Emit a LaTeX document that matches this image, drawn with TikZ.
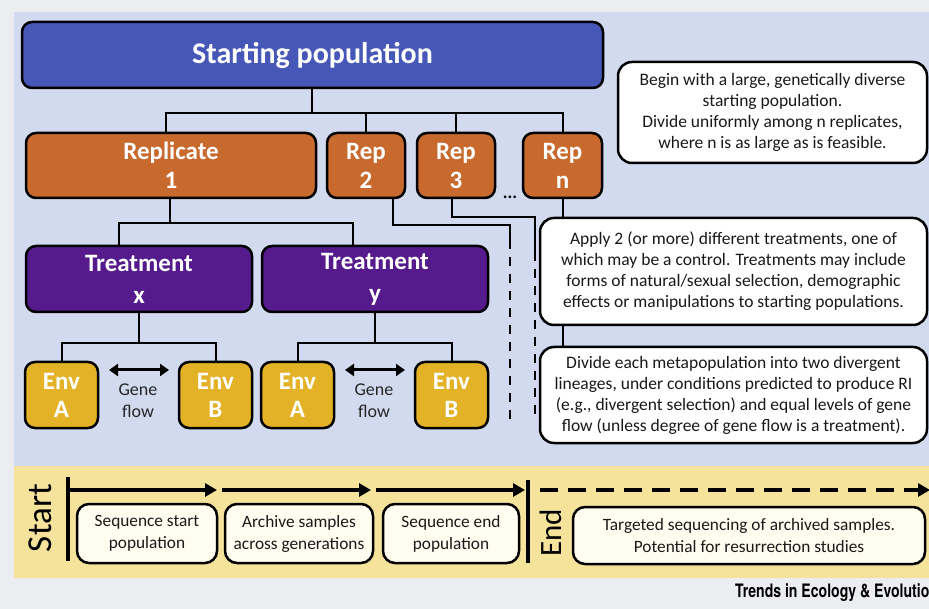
\documentclass[tikz,border=0pt]{standalone}
\usepackage{fontspec}
\setmainfont{Carlito}
\newfontfamily\heros{TeX Gyre Heros}
\usepackage{graphicx}
\usepackage{tikz}
\usetikzlibrary{arrows.meta}

\definecolor{pagegray}{RGB}{235,237,240}
\definecolor{panelblue}{RGB}{210,218,240}
\definecolor{panelyellow}{RGB}{245,227,155}
\definecolor{popblue}{RGB}{70,87,184}
\definecolor{repbrown}{RGB}{200,106,46}
\definecolor{treatpurple}{RGB}{85,27,140}
\definecolor{envgold}{RGB}{227,178,38}
\definecolor{cream}{RGB}{255,252,240}

\tikzset{
  box/.style={draw=black, line width=2.5pt, rounded corners=10pt, align=center, inner sep=0pt},
  popbox/.style={box, fill=popblue, text=white, font=\bfseries\fontsize{30}{34}\selectfont},
  repbox/.style={box, fill=repbrown, text=white, font=\bfseries\fontsize{25}{29}\selectfont, minimum height=65},
  treatbox/.style={box, fill=treatpurple, text=white, font=\bfseries\fontsize{25}{32}\selectfont, minimum width=226, minimum height=66},
  envbox/.style={box, fill=envgold, text=white, font=\bfseries\fontsize{25}{28}\selectfont, minimum width=73, minimum height=66},
  notebox/.style={box, fill=white, rounded corners=14pt, text=black!90, font=\fontsize{17.5}{21}\selectfont},
  stagebox/.style={box, fill=cream, rounded corners=12pt, text=black!90, font=\fontsize{17.3}{22}\selectfont, minimum height=59},
  link/.style={line width=2pt},
  gaplink/.style={line width=2.5pt, dash pattern=on 9pt off 8pt},
  flow/.style={line width=3pt, {Triangle[length=9pt,width=12pt]}-{Triangle[length=9pt,width=12pt]}},
  timeline/.style={line width=4pt, -{Triangle[length=12pt,width=13pt]}},
  bar/.style={line width=4pt},
}

\begin{document}
\begin{tikzpicture}[x=1pt, y=-1pt]
  \useasboundingbox (0,0) rectangle (929,609);
  \fill[pagegray] (0,0) rectangle (929,609);
  \fill[panelblue] (14,12) rectangle (929,466);
  \fill[panelyellow] (14,466) rectangle (929,578);

  % upper panel
  \node[popbox, minimum width=581, minimum height=66] (start) at (312.5,55) {Starting population};
  \node[repbox, minimum width=290] (rep1) at (171,165.5) {Replicate\\1};
  \node[repbox, minimum width=78] (rep2) at (366,165.5) {Rep\\2};
  \node[repbox, minimum width=78] (rep3) at (456,165.5) {Rep\\3};
  \node[repbox, minimum width=79] (repn) at (562.5,165.5) {Rep\\n};
  \node[font=\bfseries\fontsize{18}{18}\selectfont] (dots) at (510,197) {...};

  \node[treatbox] (treatx) at (139,279) {Treatment\\x};
  \node[treatbox] (treaty) at (375,279) {Treatment\\y};

  \node[envbox] (envxA) at (61.5,395) {Env\\A};
  \node[envbox] (envxB) at (215.5,395) {Env\\B};
  \node[envbox] (envyA) at (297.5,395) {Env\\A};
  \node[envbox] (envyB) at (451.5,395) {Env\\B};
  \node[align=center, text=black!85, font=\fontsize{18}{22}\selectfont] (gfx) at (138,401) {Gene\\flow};
  \node[align=center, text=black!85, font=\fontsize{18}{22}\selectfont] (gfy) at (374,401) {Gene\\flow};

  \node[notebox, minimum width=309, minimum height=101] (begin) at (772.5,112.5)
    {Begin with a large, genetically diverse\\starting population.\\Divide uniformly among n replicates,\\where n is as large as is feasible.};
  \node[notebox, minimum width=387, minimum height=107] (apply) at (733.5,271.5)
    {Apply 2 (or more) different treatments, one of\\which may be a control. Treatments may include\\forms of natural/sexual selection, demographic\\effects or manipulations to starting populations.};
  \node[notebox, minimum width=387, minimum height=96] (divide) at (733.5,395)
    {Divide each metapopulation into two divergent\\lineages, under conditions predicted to produce RI\\(e.g., divergent selection) and equal levels of gene\\flow (unless degree of gene flow is a treatment).};

  \coordinate (bus) at (312,113);
  \coordinate (tbus) at (170,223);
  \coordinate (ebus) at (0,343);
  \coordinate (gap2) at (510,240);
  \coordinate (gap2end) at (510,420);
  \coordinate (gap3) at (535,252);
  \coordinate (gap3end) at (535,420);

  \draw[link] (start.south -| bus) -- (bus);
  \draw[link] ([xshift=-5]rep1.north) |- (repn.north |- bus) -- (repn.north);
  \draw[link] (rep2.north) -- (rep2.north |- bus);
  \draw[link] (rep3.north) -- (rep3.north |- bus);

  \draw[link] (rep1.south -| tbus) -- (tbus);
  \draw[link] ([xshift=-20]treatx.north) |- ([xshift=-22]treaty.north |- tbus) -- ([xshift=-22]treaty.north);

  \draw[link] (treatx.south) -- (treatx.south |- ebus);
  \draw[link] (envxA.north) |- (envxB.north |- ebus) -- (envxB.north);
  \draw[link] (treaty.south) -- (treaty.south |- ebus);
  \draw[link] (envyA.north) |- (envyB.north |- ebus) -- (envyB.north);

  \coordinate (gfxl) at (109,370);
  \coordinate (gfxr) at (169,370);
  \coordinate (gfyl) at (345,370);
  \coordinate (gfyr) at (405,370);
  \draw[flow] (gfxl) -- (gfxr);
  \draw[flow] (gfyl) -- (gfyr);

  \draw[link] ([xshift=27]rep2.south) |- (gap2 |- 0,225) -- (gap2);
  \draw[gaplink] (gap2) -- (gap2end);
  \draw[link] ([xshift=-4]rep3.south) |- (gap3 |- 0,217) -- (gap3);
  \draw[gaplink] (gap3) -- (gap3end);

  \draw[link] (repn.south) -- (repn.south |- apply.north);
  \draw[link] (apply.south -| repn.south) -- (divide.north -| repn.south);

  % lower panel
  \node[rotate=90, font=\fontsize{35}{35}\selectfont] (startlbl) at (40,518) {Start};
  \node[rotate=90, font=\fontsize{31}{31}\selectfont] (endlbl) at (551,533) {End};

  \coordinate (t0) at (68,477);
  \coordinate (t0b) at (68,561);
  \coordinate (t1) at (217,490);
  \coordinate (t2a) at (222,490);
  \coordinate (t2) at (371,490);
  \coordinate (t3a) at (376,490);
  \coordinate (t3) at (525,490);
  \coordinate (e0) at (528,480);
  \coordinate (e0b) at (528,563);
  \coordinate (e1a) at (540,490);
  \coordinate (e1) at (930,490);

  \draw[bar] (t0) -- (t0b);
  \draw[bar] (e0) -- (e0b);
  \draw[timeline] (t0 |- t1) -- (t1);
  \draw[timeline] (t2a) -- (t2);
  \draw[timeline] (t3a) -- (t3);
  \draw[timeline, dash pattern=on 18pt off 10pt] (e1a) -- (e1);

  \node[stagebox, minimum width=140] (seqstart) at (147,533.5) {Sequence start\\population};
  \node[stagebox, minimum width=148] (archive) at (299,533.5) {Archive samples\\across generations};
  \node[stagebox, minimum width=136] (seqend) at (451,533.5) {Sequence end\\population};
  \node[stagebox, minimum width=352, minimum height=57] (target) at (749,535.5)
    {Targeted sequencing of archived samples.\\Potential for resurrection studies};

  \node[anchor=base west, inner sep=0pt] (credit) at (735,597)
    {\scalebox{0.76}[1]{\heros\bfseries\fontsize{18.5}{18.5}\selectfont Trends in Ecology \& Evolution}};
\end{tikzpicture}
\end{document}
